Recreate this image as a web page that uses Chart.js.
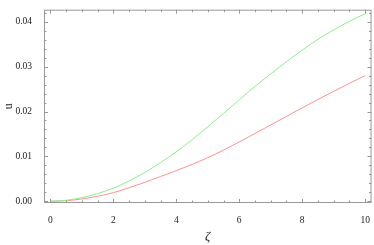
<!DOCTYPE html>
<html>
<head>
<meta charset="utf-8">
<script src="https://cdn.jsdelivr.net/npm/chart.js@4/dist/chart.umd.min.js"></script>
<style>
  html, body { margin: 0; padding: 0; background: #fff; }
  #wrap { width: 374px; height: 245px; }
</style>
</head>
<body>
<div id="wrap"><canvas id="uChart"></canvas></div>
<script>
const zeta = [0, 0.5, 1, 1.5, 2, 2.5, 3, 3.5, 4, 4.5, 5, 5.5, 6, 6.5, 7, 7.5, 8, 8.5, 9, 9.5, 10];
const uGreen = [0, 0.0002, 0.0008, 0.0017, 0.0029, 0.0045, 0.0064, 0.0086, 0.0110, 0.0137, 0.0166,
  0.0196, 0.0226, 0.0256, 0.0284, 0.0311, 0.0337, 0.0361, 0.0382, 0.0401, 0.0418];
const uRed = [0, 0.0001, 0.0005, 0.0011, 0.0019, 0.0030, 0.0042, 0.0055, 0.0068, 0.0082, 0.0097,
  0.0114, 0.0132, 0.0151, 0.0170, 0.0189, 0.0208, 0.0227, 0.0245, 0.0263, 0.0280];
const xTicks = [0, 2, 4, 6, 8, 10];
const yTicks = [0, 0.01, 0.02, 0.03, 0.04];
const xLabels = ['0', '2', '4', '6', '8', '10'];
const yLabels = ['0.00', '0.01', '0.02', '0.03', '0.04'];

const serif = "'Liberation Serif', 'DejaVu Serif', serif";

// frame with ticks on all four sides, pointing inward
const framePlugin = {
  id: 'frame',
  afterDraw(chart) {
    const { ctx, chartArea: a, scales: { x, y } } = chart;
    ctx.save();
    ctx.strokeStyle = '#999';
    ctx.lineWidth = 1;
    ctx.strokeRect(a.left + 0.5, a.top + 0.5, a.right - a.left - 1, a.bottom - a.top - 1);
    ctx.beginPath();
    for (let v = 0; v <= 10.001; v += 0.5) {
      const px = Math.round(x.getPixelForValue(v)) + 0.5;
      const len = Math.abs(v % 2) < 1e-6 ? 4 : 2.5;
      ctx.moveTo(px, a.bottom); ctx.lineTo(px, a.bottom - len);
      ctx.moveTo(px, a.top); ctx.lineTo(px, a.top + len);
    }
    for (let i = 0; i <= 21; i++) {
      const v = i * 0.002;
      const py = Math.round(y.getPixelForValue(v)) + 0.5;
      const len = i % 5 === 0 ? 4 : 2.5;
      ctx.moveTo(a.left, py); ctx.lineTo(a.left + len, py);
      ctx.moveTo(a.right, py); ctx.lineTo(a.right - len, py);
    }
    ctx.stroke();
    ctx.restore();
  }
};

new Chart(document.getElementById('uChart').getContext('2d'), {
  type: 'line',
  data: {
    datasets: [
      {
        data: zeta.map((z, i) => ({ x: z, y: uGreen[i] })),
        borderColor: 'rgb(140,238,140)',
        borderWidth: 1,
        pointRadius: 0,
        cubicInterpolationMode: 'monotone'
      },
      {
        data: zeta.map((z, i) => ({ x: z, y: uRed[i] })),
        borderColor: 'rgb(255,145,145)',
        borderWidth: 1,
        pointRadius: 0,
        cubicInterpolationMode: 'monotone'
      }
    ]
  },
  options: {
    responsive: true,
    maintainAspectRatio: false,
    animation: false,
    layout: { padding: { top: 2, right: 2, left: 0, bottom: 0 } },
    plugins: { legend: { display: false }, tooltip: { enabled: false } },
    scales: {
      x: {
        type: 'linear',
        min: -0.2,
        max: 10.2,
        grid: { display: false },
        border: { display: false },
        afterBuildTicks: s => { s.ticks = xTicks.map(v => ({ value: v })); },
        afterFit: s => { s.height = 42; },
        ticks: {
          color: '#222',
          font: { family: serif, size: 9.5 },
          padding: 4,
          maxRotation: 0,
          callback: v => xLabels[xTicks.indexOf(v)]
        },
        title: {
          display: true,
          text: 'ζ',
          color: '#222',
          font: { family: serif, size: 13, style: 'italic' },
          padding: { top: 0, bottom: 1 }
        }
      },
      y: {
        min: -0.0004,
        max: 0.0427,
        grid: { display: false },
        border: { display: false },
        afterBuildTicks: s => { s.ticks = yTicks.map(v => ({ value: v })); },
        afterFit: s => { s.width = 44; },
        ticks: {
          color: '#222',
          font: { family: serif, size: 9.5 },
          padding: 4,
          callback: v => yLabels[yTicks.findIndex(t => Math.abs(t - v) < 1e-9)]
        },
        title: {
          display: true,
          text: 'u',
          color: '#222',
          font: { family: serif, size: 12 },
          padding: { top: 2, bottom: 0 }
        }
      }
    }
  },
  plugins: [framePlugin]
});
</script>
</body>
</html>
